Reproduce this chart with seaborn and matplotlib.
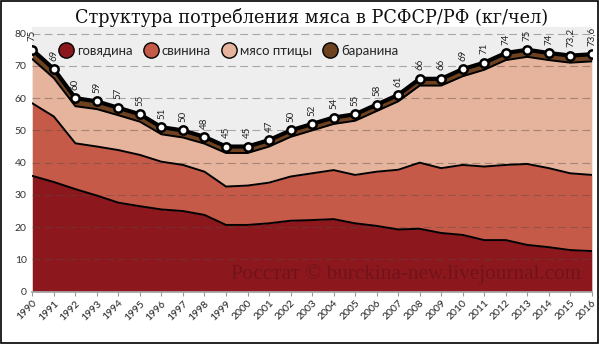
import numpy as np
import matplotlib
matplotlib.use("Agg")
import matplotlib.pyplot as plt
from matplotlib.lines import Line2D
from matplotlib.patches import Rectangle
import seaborn as sns

years = list(range(1990, 2017))
beef = [35.9, 34.0, 31.8, 29.8, 27.6, 26.5, 25.5, 25.0, 23.8, 20.7, 20.7, 21.2, 22.0, 22.2,
        22.5, 21.2, 20.4, 19.3, 19.5, 18.2, 17.6, 16.0, 16.0, 14.5, 13.8, 12.9, 12.6]
pork = [22.5, 20.3, 14.2, 15.2, 16.3, 15.9, 14.8, 14.3, 13.4, 11.9, 12.2, 12.6, 13.7, 14.5,
        15.2, 15.0, 16.8, 18.5, 20.5, 20.1, 21.7, 22.8, 23.3, 25.1, 24.5, 23.8, 23.6]
poultry = [13.7, 11.9, 11.5, 11.6, 10.8, 10.3, 8.5, 8.5, 8.7, 10.4, 10.1, 11.2, 12.3, 13.3,
           14.3, 16.8, 18.8, 21.2, 23.9, 25.6, 27.5, 30.0, 32.5, 33.2, 33.5, 34.3, 35.2]
lamb = [2.9, 2.8, 2.5, 2.4, 2.3, 2.3, 2.2, 2.2, 2.1, 2.0, 2.0, 2.0, 2.0, 2.0,
        2.0, 2.0, 2.0, 2.0, 2.1, 2.1, 2.2, 2.2, 2.2, 2.2, 2.2, 2.2, 2.2]
total_labels = ["75", "69", "60", "59", "57", "55", "51", "50", "48", "45", "45", "47", "50", "52",
                "54", "55", "58", "61", "66", "66", "69", "71", "74", "75", "74", "73,2", "73,6"]
series_names = ["говядина", "свинина", "мясо птицы", "баранина"]
colors = ["#8c181e", "#c65a48", "#e6b39c", "#6e4220"]
title = "Структура потребления мяса в РСФСР/РФ (кг/чел)"
watermark = "Росстат © burckina-new.livejournal.com"

sns.set_theme(style="white")
plt.rcParams["font.family"] = ["Lato", "DejaVu Sans"]

fig = plt.figure(figsize=(5.99, 3.44), dpi=100)
ax = fig.add_axes([0.054, 0.152, 0.934, 0.769])
ax.set_facecolor("#eeeeee")

stack = np.cumsum(np.array([beef, pork, poultry, lamb]), axis=0)
lower = np.zeros(len(years))
for i, (name, col) in enumerate(zip(series_names, colors)):
    ax.fill_between(years, lower, stack[i], color=col, lw=0, zorder=1)
    lower = stack[i]

for i in range(3):
    sns.lineplot(x=years, y=stack[i], ax=ax, color="black", lw=1.4, zorder=3)

sns.lineplot(x=years, y=stack[3], ax=ax, color="black", lw=3.0, zorder=4,
             marker="o", markersize=6, markerfacecolor="white",
             markeredgecolor="black", markeredgewidth=1.8)

for x, y, lab in zip(years, stack[3], total_labels):
    ax.annotate(lab, (x, y), xytext=(0, 6), textcoords="offset points",
                rotation=90, ha="center", va="bottom", fontsize=7, color="#222222",
                zorder=5, annotation_clip=False)

ax.set_xlim(1990, 2016)
ax.set_ylim(0, 82)
ax.set_yticks(range(0, 81, 10))
ax.set_xticks(years)
ax.set_xticklabels([str(y) for y in years], rotation=45, ha="right", rotation_mode="anchor",
                   fontsize=7.5, color="#222222")
ax.tick_params(axis="y", labelsize=7.5, colors="#333333", length=0, pad=4)
ax.tick_params(axis="x", length=3, width=0.8, color="#999999", pad=2, direction="out",
               bottom=True)
ax.set_axisbelow(False)
ax.yaxis.grid(True, linestyle=(0, (7, 4)), color="#5a4a44", alpha=0.45, lw=0.8)
ax.xaxis.grid(False)
for s in ["left", "right", "top"]:
    ax.spines[s].set_visible(False)
ax.spines["bottom"].set_color("#aaaaaa")
ax.set_xlabel("")
ax.set_ylabel("")

handles = [Line2D([], [], marker="o", linestyle="none", markersize=11,
                  markerfacecolor=c, markeredgecolor="black", markeredgewidth=1.0)
           for c in colors]
fig.legend(handles, series_names, loc="center", bbox_to_anchor=(0.382, 0.853), ncol=4,
           frameon=False, fontsize=9.5, handletextpad=0.35, columnspacing=0.85,
           handlelength=1.0)

fig.text(0.52, 0.95, title, ha="center", va="center", fontsize=12.7,
         family=["DejaVu Serif"], color="#111111")
ax.text(0.668, 0.067, watermark, transform=ax.transAxes, ha="center", va="center",
        fontsize=15.3, family=["Liberation Serif"], color="#66101a", alpha=0.7, zorder=2)

fig.add_artist(Rectangle((0.001, 0.002), 0.997, 0.995, transform=fig.transFigure,
                         fill=False, edgecolor="black", lw=1.2))

fig.savefig("out.png", dpi=100)
